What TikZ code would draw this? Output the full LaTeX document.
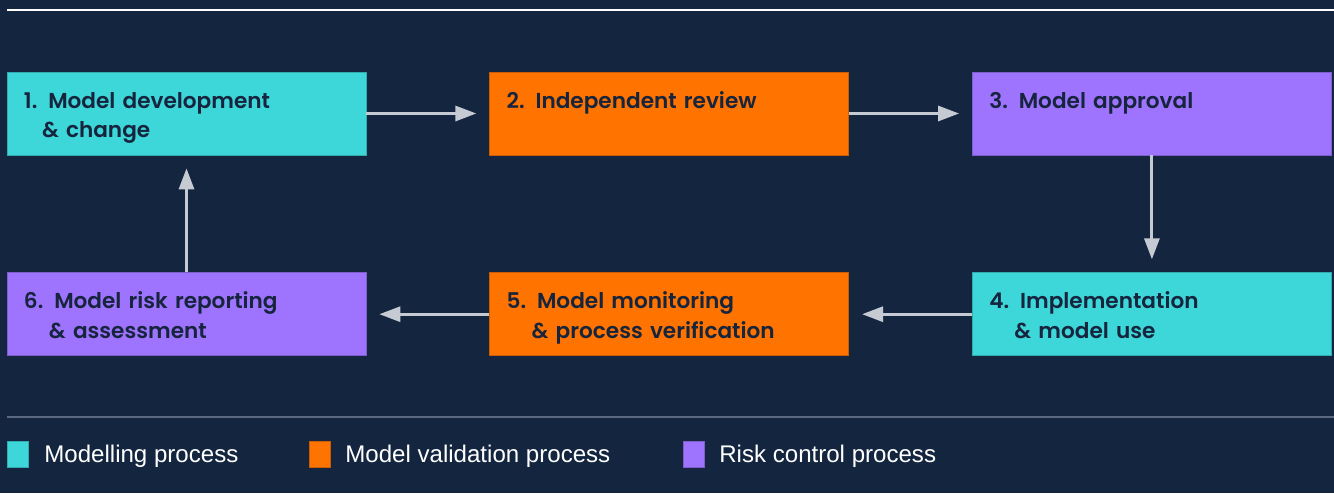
\documentclass[tikz,border=0pt]{standalone}
\usepackage{xcolor}
\usepackage{fontspec}
\usepackage{tikz}
\usetikzlibrary{shapes,arrows,arrows.meta,positioning}
\newfontfamily\boxfont{Poppins}[BoldFont={Poppins SemiBold}, WordSpace=0.7]
\newfontfamily\legendfont{Liberation Sans}
\definecolor{navy}{HTML}{14263F}
\definecolor{boxtext}{HTML}{16253D}
\definecolor{modelcyan}{HTML}{3DD6D9}
\definecolor{validorange}{HTML}{FF7300}
\definecolor{riskpurple}{HTML}{9E74FF}
\definecolor{arrowgray}{HTML}{C5CAD3}
\definecolor{rulegray}{HTML}{5A6980}
\tikzstyle{block} = [rectangle, text=boxtext, align=left, text width=6.5cm, inner xsep=0.34cm,
    inner ysep=0pt, text height=0.72cm, text depth=0.94cm,
    font=\boxfont\bfseries\fontsize{12.3}{16.8}\selectfont]
\tikzstyle{modelling} = [block, fill=modelcyan, draw=modelcyan!80!black, line width=0.4pt]
\tikzstyle{validation} = [block, fill=validorange, draw=validorange!80!black, line width=0.4pt]
\tikzstyle{riskctrl} = [block, fill=riskpurple, draw=riskpurple!80!black, line width=0.4pt]
\tikzstyle{line} = [draw, arrowgray, line width=1.7pt, -{Triangle[length=0.42cm, width=0.3cm]},
    shorten >=0.26cm]
\tikzstyle{key} = [rectangle, minimum width=0.42cm, minimum height=0.52cm, inner sep=0pt,
    line width=0.4pt]
\tikzstyle{keytext} = [text=white, anchor=base west, inner sep=0pt,
    font=\legendfont\fontsize{13.7}{16}\selectfont]

\begin{document}
\begin{tikzpicture}[node distance=2.46cm and 2.46cm]
  \fill [navy] (0,0) rectangle (26.68,9.86);
  \useasboundingbox (0,0) rectangle (26.68,9.86);
  \draw [white, line width=1.2pt] (0.14,9.66) -- (26.68,9.66);

      \node [modelling] at (3.73,7.59) (develop) {1. Model development\\\hspace*{0.36cm}\& change};
      \node [validation, right=of develop] (review) {2. Independent review};
      \node [riskctrl, right=of review] (approval) {3. Model approval};
      \node [modelling, below=2.34cm of approval] (implement) {4. Implementation\\\hspace*{0.5cm}\& model use};
      \node [validation, left=of implement] (monitor) {5. Model monitoring\\\hspace*{0.5cm}\& process verification};
      \node [riskctrl, left=of monitor] (reporting) {6. Model risk reporting\\\hspace*{0.5cm}\& assessment};

      \path [line] (develop) -- (review);
      \path [line] (review) -- (approval);
      \path [line] (approval) -- (implement);
      \path [line] (implement) -- (monitor);
      \path [line] (monitor) -- (reporting);
      \path [line] (reporting) -- (develop);

  \draw [rulegray, line width=1.2pt] (0.14,1.52) -- (26.68,1.52);

      % legend
      \node [key, fill=modelcyan, draw=modelcyan!80!black] at (0.35,0.78) (keymodel) {};
      \node [keytext] at (0.88,0.62) (txtmodel) {Modelling process};
      \node [key, fill=validorange, draw=validorange!80!black] at (6.39,0.78) (keyvalid) {};
      \node [keytext] at (6.9,0.62) (txtvalid) {Model validation process};
      \node [key, fill=riskpurple, draw=riskpurple!80!black] at (13.87,0.78) (keyrisk) {};
      \node [keytext] at (14.38,0.62) (txtrisk) {Risk control process};
\end{tikzpicture}
\end{document}
